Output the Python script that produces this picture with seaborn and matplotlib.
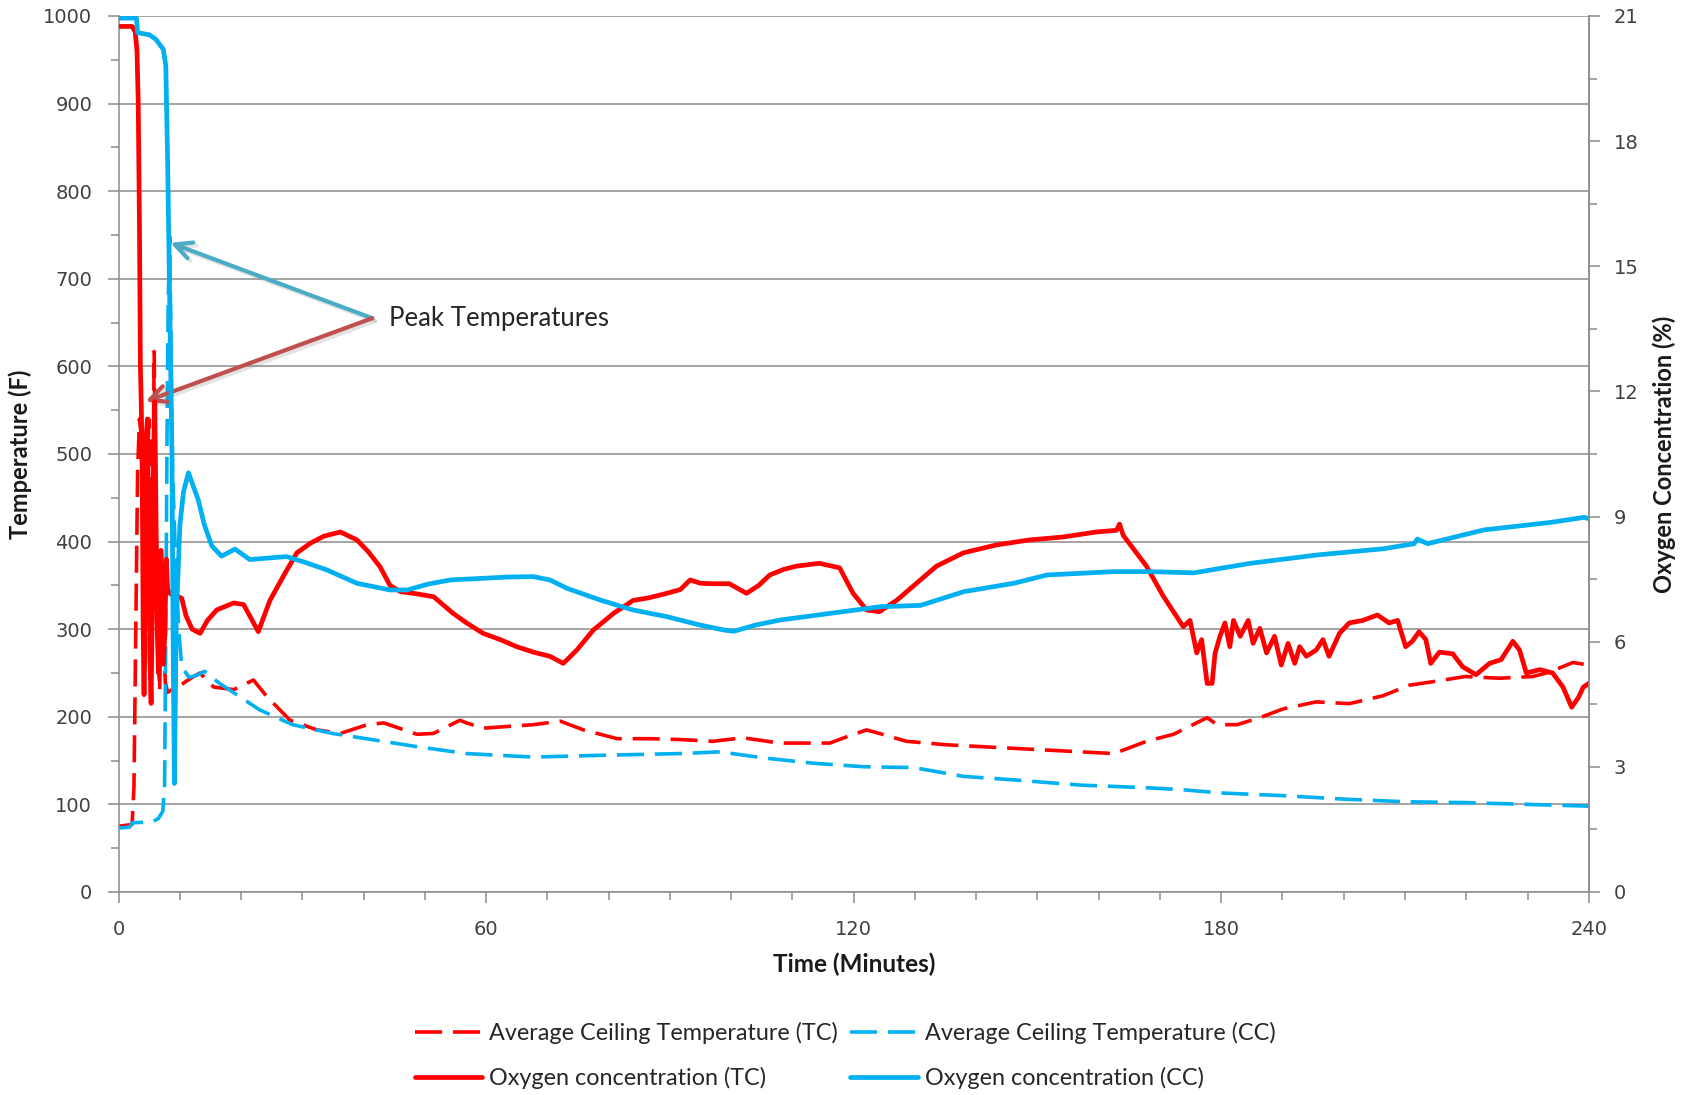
import matplotlib
matplotlib.use("Agg")
import matplotlib.pyplot as plt
import matplotlib.patheffects as pe
from matplotlib.ticker import MultipleLocator
import seaborn as sns

# ---- Average ceiling temperature, traditional construction (F) ----
time_temp_tc = [0, 2.2, 2.5, 2.8, 3.1, 3.4, 3.7, 4.0, 4.3, 4.6, 4.9, 5.2, 5.5, 5.8, 6.1,
                6.4, 6.7, 7.0, 7.3, 7.6, 8.0, 9.0, 10.5, 12.0, 13.3, 15.5, 18.8, 22.0,
                24.2, 28.0, 32.4, 36.2, 40.6, 43.3, 48.7, 51.4, 55.7, 56.8, 59.5, 67.7,
                72.1, 75.9, 81.4, 86.8, 91.7, 97.0, 101.9, 107.9, 116.1, 118.8, 122.1,
                124.2, 128.6, 135.2, 146.1, 157.0, 162.5, 167.8, 172.2, 177.7, 179.3,
                182.6, 186.3, 190.1, 195.5, 200.9, 206.4, 210.7, 214.5, 219.9, 225.4,
                230.9, 233.6, 237.4, 240.0]
temp_tc = [75, 77, 120, 300, 480, 540, 520, 400, 250, 380, 540, 500, 350, 617, 420,
           280, 230, 350, 330, 240, 228, 232, 238, 245, 250, 234, 231, 242,
           223, 196, 185, 181, 191, 193, 180, 181, 196, 193, 187, 191,
           195, 185, 175, 175, 174, 172, 176, 170, 170, 177, 185,
           181, 172, 168, 164, 160, 158, 172, 180, 199, 191,
           191, 199, 209, 217, 215, 224, 236, 240, 246, 244,
           246, 251, 262, 259]

# ---- Average ceiling temperature, contemporary construction (F) ----
time_temp_cc = [0, 1.8, 2.2, 5.5, 6.5, 7.2, 7.5, 7.7, 7.9, 8.1, 8.35, 8.5, 8.8, 9.3,
                9.8, 10.3, 11.5, 13.0, 14.0, 16.5, 23.0, 28.4, 34.9, 40.4, 48.6, 56.8,
                67.7, 78.6, 91.7, 98.2, 105.3, 113.4, 121.6, 129.8, 137.9, 146.1,
                157.0, 167.8, 173.2, 180, 190, 200, 210, 220, 230, 240]
temp_cc = [73, 74, 79, 80, 84, 92, 120, 300, 520, 680, 748, 650, 480, 380,
           300, 257, 245, 248, 252, 238, 208, 191, 181, 175, 166, 158,
           154, 156, 158, 160, 153, 147, 143, 142, 132, 128,
           122, 119, 117, 113, 110, 106, 103, 102, 100, 98]

# ---- Oxygen concentration, traditional construction (%) ----
time_o2_tc = [0, 2.2, 2.7, 3.0, 3.2, 3.4, 3.55, 3.7, 3.85, 4.0, 4.15, 4.35, 4.5, 4.7,
              4.9, 5.1, 5.3, 5.5, 5.7, 5.9, 6.1, 6.3, 6.5, 6.7, 6.9, 7.1, 7.3, 7.5,
              7.8, 8.0, 8.5, 9.5, 10.3, 11.0, 12.0, 13.3, 14.5, 16.0, 18.8, 20.4,
              22.8, 24.7, 27.0, 29.1, 31.3, 33.5, 36.2, 38.9, 40.8, 42.7, 44.3, 46.0,
              48.1, 51.4, 54.6, 56.8, 59.5, 62.3, 65.0, 67.7, 70.4, 72.6, 74.8, 77.5,
              80.8, 84.0, 86.5, 89.5, 91.7, 93.3, 95.0, 97.0, 99.7, 102.5, 104.5,
              106.3, 108.5, 110.6, 114.4, 117.7, 119.9, 122.1, 124.2, 127.0, 129.7,
              133.5, 137.9, 143.3, 148.7, 154.2, 159.6, 162.9, 163.4, 164.0, 167.8,
              170.5, 173.8, 174.9, 176.0, 176.8, 177.7, 178.5, 179.0, 179.8, 180.6,
              181.4, 182.0, 183.1, 184.4, 185.2, 186.3, 187.4, 188.7, 189.8, 190.9,
              192.0, 192.8, 193.9, 195.5, 196.6, 197.6, 199.3, 200.9, 203.1, 205.5,
              207.4, 208.8, 210.1, 211.2, 212.3, 213.4, 214.2, 215.6, 217.8, 219.4,
              221.6, 223.8, 225.7, 227.6, 228.7, 229.8, 232.0, 234.1, 235.8, 237.2,
              238.3, 239.1, 240.0]
o2_tc = [20.75, 20.75, 20.62, 20.16, 18.9, 15.96, 12.6, 11.66, 10.08, 6.3, 4.73, 7.98, 10.92, 11.34,
         8.82, 5.67, 4.52, 6.93, 10.5, 11.76, 9.03, 6.3, 5.25, 6.72, 8.19, 7.56, 5.46, 6.09,
         7.98, 7.25, 7.14, 7.10, 7.04, 6.62, 6.30, 6.20, 6.51, 6.76, 6.93, 6.89,
         6.24, 6.99, 7.60, 8.13, 8.36, 8.53, 8.63, 8.44, 8.15, 7.79, 7.35, 7.20,
         7.16, 7.08, 6.68, 6.45, 6.20, 6.05, 5.88, 5.75, 5.65, 5.48, 5.80, 6.28,
         6.68, 6.99, 7.05, 7.16, 7.25, 7.48, 7.40, 7.39, 7.39, 7.16, 7.35,
         7.60, 7.73, 7.81, 7.88, 7.77, 7.16, 6.76, 6.72, 6.99, 7.33,
         7.81, 8.13, 8.32, 8.44, 8.51, 8.63, 8.67, 8.82, 8.55, 7.81,
         7.10, 6.36, 6.51, 5.73, 6.05, 5.00, 5.00, 5.73, 6.13, 6.45,
         5.88, 6.51, 6.13, 6.51, 5.96, 6.32, 5.73, 6.13, 5.44, 5.96,
         5.48, 5.88, 5.65, 5.80, 6.05, 5.65, 6.20, 6.45, 6.51, 6.64,
         6.45, 6.51, 5.88, 6.01, 6.24, 6.05, 5.48, 5.75, 5.71, 5.40,
         5.21, 5.48, 5.57, 6.01, 5.80, 5.25, 5.33, 5.25, 4.91, 4.43,
         4.66, 4.91, 5.00]

# ---- Oxygen concentration, contemporary construction (%) ----
time_o2_cc = [0, 2.9, 3.1, 5.0, 6.0, 7.3, 7.7, 8.0, 8.2, 8.5, 8.7, 8.9, 9.1, 9.4, 10.0,
              10.6, 11.4, 12.0, 13.0, 14.0, 15.2, 16.8, 19.0, 21.4, 24.0, 27.4, 30.5,
              34.0, 38.9, 44.3, 47.1, 50.5, 54.1, 59.5, 63.5, 67.7, 70.4, 73.2, 78.6,
              84.0, 89.5, 94.9, 98.8, 100.4, 104.0, 108.0, 116.2, 124.4, 130.9, 138.0,
              146.1, 151.6, 162.5, 168.4, 175.5, 184.8, 195.7, 206.6, 211.5, 212.0,
              213.7, 222.9, 233.8, 239.2, 240.0]
o2_cc = [20.95, 20.95, 20.6, 20.55, 20.45, 20.2, 19.8, 17.5, 15.5, 12.5, 10.5, 6.0, 2.6, 6.5, 8.8,
         9.6, 10.05, 9.8, 9.4, 8.8, 8.3, 8.05, 8.22, 7.97, 8.0, 8.04, 7.9,
         7.72, 7.40, 7.24, 7.24, 7.38, 7.48, 7.52, 7.55, 7.56, 7.48, 7.28, 7.00,
         6.76, 6.60, 6.40, 6.28, 6.25, 6.40, 6.52, 6.68, 6.84, 6.87, 7.20,
         7.40, 7.60, 7.68, 7.68, 7.65, 7.88, 8.08, 8.23, 8.35, 8.46,
         8.35, 8.68, 8.86, 8.98, 8.95]

labels = ["Average Ceiling Temperature (TC)", "Average Ceiling Temperature (CC)",
          "Oxygen concentration (TC)", "Oxygen concentration (CC)"]
x_ticks = [0, 60, 120, 180, 240]
temp_ticks = list(range(0, 1001, 100))
o2_ticks = [0, 3, 6, 9, 12, 15, 18, 21]

RED = "#FF0000"
BLUE = "#00B0F0"
GRID = "#8C8C8C"
TXT = "#404040"
LABEL_FONT = ["Lato", "DejaVu Sans"]

sns.set_theme(style="ticks")
plt.rcParams["font.family"] = ["DejaVu Sans"]

fig = plt.figure(figsize=(16.9, 10.95), dpi=100)
ax = fig.add_axes([0.0702, 0.1854, 0.8699, 0.8000])
ax2 = ax.twinx()

dash = (0, (7.5, 3.0))
sns.lineplot(x=time_temp_tc, y=temp_tc, ax=ax, color=RED, linewidth=2.6,
             linestyle=dash, label=labels[0], legend=False)
sns.lineplot(x=time_temp_cc, y=temp_cc, ax=ax, color=BLUE, linewidth=2.6,
             linestyle=dash, label=labels[1], legend=False)
sns.lineplot(x=time_o2_tc, y=o2_tc, ax=ax2, color=RED, linewidth=3.4,
             label=labels[2], legend=False)
sns.lineplot(x=time_o2_cc, y=o2_cc, ax=ax2, color=BLUE, linewidth=3.4,
             label=labels[3], legend=False)

# axes ranges and ticks
ax.set_xlim(0, 240)
ax.set_ylim(0, 1000)
ax2.set_ylim(0, 21)
ax.set_xticks(x_ticks)
ax.set_yticks(temp_ticks)
ax2.set_yticks(o2_ticks)
ax.xaxis.set_minor_locator(MultipleLocator(10))
ax.yaxis.set_minor_locator(MultipleLocator(50))
ax2.yaxis.set_minor_locator(MultipleLocator(1.5))

ax.yaxis.grid(True, which="major", color=GRID, linewidth=1.1)
ax.set_axisbelow(True)

for a in (ax, ax2):
    a.spines["top"].set_visible(False)
    for s in a.spines.values():
        s.set_color(GRID)
        s.set_linewidth(1.1)
ax2.spines["left"].set_visible(False)
ax2.spines["bottom"].set_visible(False)

ax.tick_params(axis="x", which="major", direction="out", length=8, width=1.1,
               color=GRID, labelsize=14, labelcolor=TXT, pad=12, bottom=True)
ax.tick_params(axis="x", which="minor", direction="out", length=6, width=1.1,
               color=GRID, bottom=True)
ax.tick_params(axis="y", which="major", direction="out", length=8, width=1.1,
               color=GRID, labelsize=14, labelcolor=TXT, pad=11, left=True)
ax.tick_params(axis="y", which="minor", direction="out", length=6, width=1.1,
               color=GRID, left=True)
ax2.tick_params(axis="y", which="major", direction="out", length=8, width=1.1,
                color=GRID, labelsize=14, labelcolor=TXT, pad=10, right=True)
ax2.tick_params(axis="y", which="minor", direction="out", length=6, width=1.1,
                color=GRID, right=True)

ax.set_xlabel("Time (Minutes)", fontfamily=LABEL_FONT, fontweight="bold",
              fontsize=17.5, color="#1a1a1a")
ax.xaxis.set_label_coords(0.5, -0.069)
ax.set_ylabel("Temperature (F)", fontfamily=LABEL_FONT, fontweight="bold",
              fontsize=17, color="#1a1a1a")
ax.yaxis.set_label_coords(-0.059, 0.5)
ax2.set_ylabel("Oxygen Concentration (%)", fontfamily=LABEL_FONT, fontweight="bold",
               fontsize=17, color="#1a1a1a")
ax2.yaxis.set_label_coords(1.043, 0.5)

# annotation pointing at the two temperature peaks
shadow = [pe.SimpleLineShadow(offset=(2, -2), shadow_color="gray", alpha=0.22), pe.Normal()]
ax.annotate("", xy=(8.45, 741), xytext=(41.4, 655),
            arrowprops=dict(arrowstyle="->", color="#4BACC6", lw=3, mutation_scale=30,
                            shrinkA=0, shrinkB=0, path_effects=shadow))
ax.annotate("", xy=(4.4, 560), xytext=(41.4, 655),
            arrowprops=dict(arrowstyle="->", color="#C0504D", lw=3, mutation_scale=30,
                            shrinkA=0, shrinkB=0, path_effects=shadow))
ax.text(44.2, 655, "Peak Temperatures", fontfamily=LABEL_FONT, fontsize=18.5,
        color="#262626", ha="left", va="center")

# legend below the plot
h1, l1 = ax.get_legend_handles_labels()
h2, l2 = ax2.get_legend_handles_labels()
handles = [h1[0], h2[0], h1[1], h2[1]]
names = [l1[0], l2[0], l1[1], l2[1]]
fig.legend(handles, names, ncol=2, loc="center", bbox_to_anchor=(0.5, 0.036),
           frameon=False, prop={"family": LABEL_FONT, "size": 16.8},
           handlelength=2.9, handletextpad=0.3, columnspacing=0.5,
           labelspacing=1.0, labelcolor="#262626")

fig.savefig("out.png", dpi=100)
